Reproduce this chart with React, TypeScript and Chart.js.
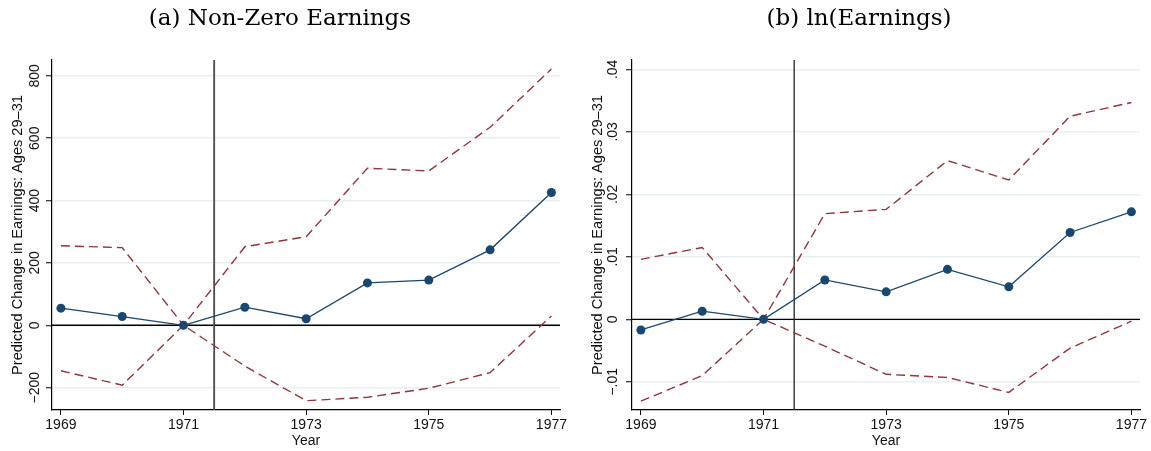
import React, { useEffect, useRef } from "react";
import { Chart, registerables } from "chart.js";

Chart.register(...registerables);

// ---- data ----
const years = [1969, 1970, 1971, 1972, 1973, 1974, 1975, 1976, 1977];
const xTickValues = [1969, 1971, 1973, 1975, 1977];

const earnEst = [55, 28, 0, 58, 21, 136, 145, 242, 426];
const earnUpper = [255, 249, 0, 252, 284, 504, 495, 635, 822];
const earnLower = [-146, -192, 0, -131, -242, -231, -202, -152, 30];
const earnTickValues = [-200, 0, 200, 400, 600, 800];
const earnTickLabels = ["\u2212200", "0", "200", "400", "600", "800"];

const lnEst = [-0.0017, 0.0013, 0, 0.0063, 0.0044, 0.008, 0.0052, 0.0139, 0.0172];
const lnUpper = [0.0096, 0.0115, 0, 0.0169, 0.0176, 0.0254, 0.0223, 0.0325, 0.0347];
const lnLower = [-0.0131, -0.009, 0, -0.0043, -0.0088, -0.0093, -0.0117, -0.0046, -0.0003];
const lnTickValues = [-0.01, 0, 0.01, 0.02, 0.03, 0.04];
const lnTickLabels = ["\u2212.01", "0", ".01", ".02", ".03", ".04"];

const yTitle = "Predicted Change in Earnings: Ages 29\u201331";
const xTitle = "Year";
const policyYear = 1971.5;

const NAVY = "#1a476f";
const MAROON = "#90353b";
const SANS = "'Liberation Sans', Arial, sans-serif";

type PanelProps = {
  title: string;
  est: number[];
  upper: number[];
  lower: number[];
  tickValues: number[];
  tickLabels: string[];
  yMin: number;
  yMax: number;
  width: number;
  axisWidth: number;
  yTitlePad: number;
  yTickPad: number;
  padRight: number;
  vlineColor: string;
  vlineWidth: number;
};

const refLines = (vColor: string, vWidth: number) => ({
  id: "refLines",
  beforeDatasetsDraw(chart: any) {
    const { ctx, chartArea, scales } = chart;
    const x = scales.x;
    const y = scales.y;
    ctx.save();
    const y0 = y.getPixelForValue(0);
    ctx.strokeStyle = "#000";
    ctx.lineWidth = 1.4;
    ctx.beginPath();
    ctx.moveTo(chartArea.left, y0);
    ctx.lineTo(chartArea.right, y0);
    ctx.stroke();
    const xv = x.getPixelForValue(policyYear);
    ctx.strokeStyle = vColor;
    ctx.lineWidth = vWidth;
    ctx.beginPath();
    ctx.moveTo(xv, chartArea.top);
    ctx.lineTo(xv, chartArea.bottom);
    ctx.stroke();
    ctx.restore();
  },
});

function Panel(p: PanelProps) {
  const ref = useRef<HTMLCanvasElement | null>(null);
  useEffect(() => {
    if (!ref.current) return;
    const toPts = (arr: number[]) => years.map((yr, i) => ({ x: yr, y: arr[i] }));
    const chart = new Chart(ref.current, {
      type: "line",
      data: {
        datasets: [
          {
            data: toPts(p.est),
            borderColor: NAVY,
            backgroundColor: NAVY,
            borderWidth: 1.3,
            pointRadius: 4.5,
            pointBackgroundColor: NAVY,
            pointBorderWidth: 0,
            tension: 0,
          },
          {
            data: toPts(p.upper),
            borderColor: MAROON,
            borderWidth: 1.4,
            borderDash: [9, 5],
            pointRadius: 0,
            tension: 0,
          },
          {
            data: toPts(p.lower),
            borderColor: MAROON,
            borderWidth: 1.4,
            borderDash: [9, 5],
            pointRadius: 0,
            tension: 0,
          },
        ],
      },
      options: {
        animation: false,
        responsive: false,
        layout: { padding: { left: 0, right: p.padRight, top: 0, bottom: 0 } },
        plugins: {
          legend: { display: false },
          tooltip: { enabled: false },
          title: {
            display: true,
            text: p.title,
            color: "#000",
            font: { family: "'DejaVu Serif', serif", size: 23, weight: "normal" },
            padding: { top: 5, bottom: 27.4 },
          },
        },
        scales: {
          x: {
            type: "linear",
            min: 1968.855,
            max: 1977.14,
            afterBuildTicks: (s: any) => {
              s.ticks = xTickValues.map((v) => ({ value: v }));
            },
            afterFit: (s: any) => {
              s.height = 41;
              s.paddingLeft = 0;
              s.paddingRight = 0;
            },
            grid: {
              drawOnChartArea: false,
              drawTicks: true,
              tickLength: 5,
              tickColor: "#000",
              color: "#000",
            },
            border: { display: true, color: "#000", width: 1.2 },
            ticks: {
              color: "#111",
              font: { family: SANS, size: 14 },
              padding: 2,
              maxRotation: 0,
              autoSkip: false,
              callback: (v: any) => String(v),
            },
            title: {
              display: true,
              text: xTitle,
              color: "#111",
              font: { family: SANS, size: 14 },
              padding: { top: 0, bottom: 1.5 },
            },
          },
          y: {
            type: "linear",
            min: p.yMin,
            max: p.yMax,
            afterBuildTicks: (s: any) => {
              s.ticks = p.tickValues.map((v) => ({ value: v }));
            },
            afterFit: (s: any) => {
              s.width = p.axisWidth;
              s.paddingTop = 0;
              s.paddingBottom = 0;
            },
            grid: {
              color: "#e8f0f2",
              lineWidth: 1.5,
              drawTicks: true,
              tickLength: 6,
              tickColor: "#000",
              tickWidth: 1,
            },
            border: { display: true, color: "#000", width: 1.2 },
            ticks: {
              color: "#111",
              font: { family: SANS, size: 14 },
              minRotation: 90,
              maxRotation: 90,
              crossAlign: "center",
              padding: p.yTickPad,
              autoSkip: false,
              callback: (_v: any, i: number) => p.tickLabels[i],
            },
            title: {
              display: true,
              text: yTitle,
              color: "#111",
              font: { family: SANS, size: 14.6 },
              padding: { top: p.yTitlePad, bottom: 0 },
            },
          },
        },
      } as any,
      plugins: [refLines(p.vlineColor, p.vlineWidth)],
    });
    return () => chart.destroy();
  }, []);
  return <canvas ref={ref} width={p.width} height={451} style={{ width: p.width, height: 451, display: "block" }} />;
}

export default function App() {
  return (
    <div style={{ position: "fixed", left: 0, top: 0, width: 1151, height: 451, background: "#fff" }}>
      <div style={{ position: "absolute", left: 0, top: 0 }}>
        <Panel
          title="(a) Non-Zero Earnings"
          est={earnEst}
          upper={earnUpper}
          lower={earnLower}
          tickValues={earnTickValues}
          tickLabels={earnTickLabels}
          yMin={-271.8}
          yMax={851}
          width={570}
          axisWidth={52}
          yTitlePad={9.3}
          yTickPad={-4.5}
          padRight={10}
          vlineColor="#4a4a4a"
          vlineWidth={1.8}
        />
      </div>
      <div style={{ position: "absolute", left: 578, top: 0 }}>
        <Panel
          title="(b) ln(Earnings)"
          est={lnEst}
          upper={lnUpper}
          lower={lnLower}
          tickValues={lnTickValues}
          tickLabels={lnTickLabels}
          yMin={-0.01451}
          yMax={0.0415}
          width={573}
          axisWidth={54}
          yTitlePad={10.8}
          yTickPad={-0.5}
          padRight={11}
          vlineColor="#222"
          vlineWidth={1.3}
        />
      </div>
    </div>
  );
}
